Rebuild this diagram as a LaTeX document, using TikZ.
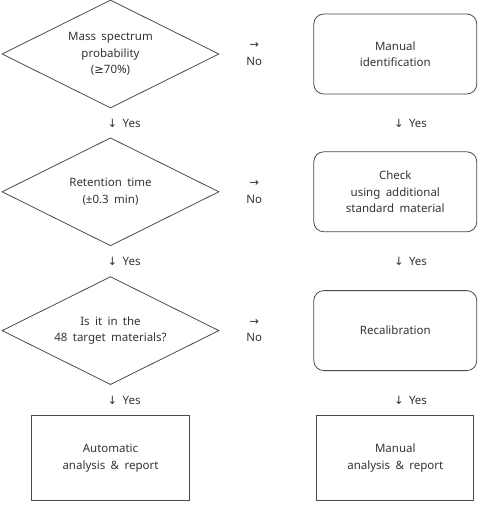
\documentclass[tikz,border=0pt]{standalone}
\usepackage{fontspec}
\setmainfont{Noto Sans}[WordSpace=1.8]
\newfontfamily\arrowfont{DejaVu Sans}
\usetikzlibrary{positioning, shapes.geometric, calc}
\definecolor{fcLine}{HTML}{4A4A4A}
\definecolor{fcText}{HTML}{333333}

\begin{document}
\begin{tikzpicture}[
  x=1pt, y=1pt,
  every node/.style={text=fcText, font=\fontsize{11.5}{16.5}\selectfont},
  decision/.style={draw=fcLine, line width=0.8pt, diamond, aspect=2, inner sep=0pt,
                   minimum width=217pt, minimum height=108pt, align=center},
  action/.style={draw=fcLine, line width=0.8pt, rounded corners=10pt,
                 minimum width=163pt, minimum height=80pt, align=center},
  result/.style={draw=fcLine, line width=0.8pt, minimum width=158pt,
                 minimum height=85pt, align=center},
  yes/.style={anchor=west, inner sep=0pt},
  no/.style={align=center, inner sep=0pt}
]
  \useasboundingbox (0,0) rectangle (481,-506);

  % left column: decisions
  \node[decision] (mass) at (110.5,-54) {Mass spectrum\\probability\\({\arrowfont ≥}70\%)};
  \node[decision, below=29pt of mass] (ret) {Retention time\\(±0.3 min)};
  \node[decision, below=30pt of ret] (target) {Is it in the\\48 target materials?};
  \node[result, below=30pt of target] (auto) {Automatic\\analysis \& report};

  % right column: fallbacks
  \node[action, right=94pt of mass] (manid) {Manual\\identification};
  \node[action, right=94pt of ret] (check) {Check\\using additional\\standard material};
  \node[action, right=94pt of target] (recal) {Recalibration};
  \node[result, minimum width=157pt] (manrep) at (recal |- auto) {Manual\\analysis \& report};

  % yes labels
  \foreach \up/\down/\side in {mass/ret/manid, ret/target/check, target/auto/recal} {
    \coordinate (gap) at ($(\up.south)!0.5!(\down.north)$);
    \node[yes] at ([xshift=-3pt]gap) {{\arrowfont ↓}~Yes};
    \node[yes] at ([xshift=-1.5pt]\side.south |- gap) {{\arrowfont ↓}~Yes};
  }

  % no labels
  \foreach \src/\dst in {mass/manid, ret/check, target/recal}
    \node[no] at ($(\src.east)!0.37!(\dst.west)$) {{\arrowfont →}\\No};
\end{tikzpicture}
\end{document}
